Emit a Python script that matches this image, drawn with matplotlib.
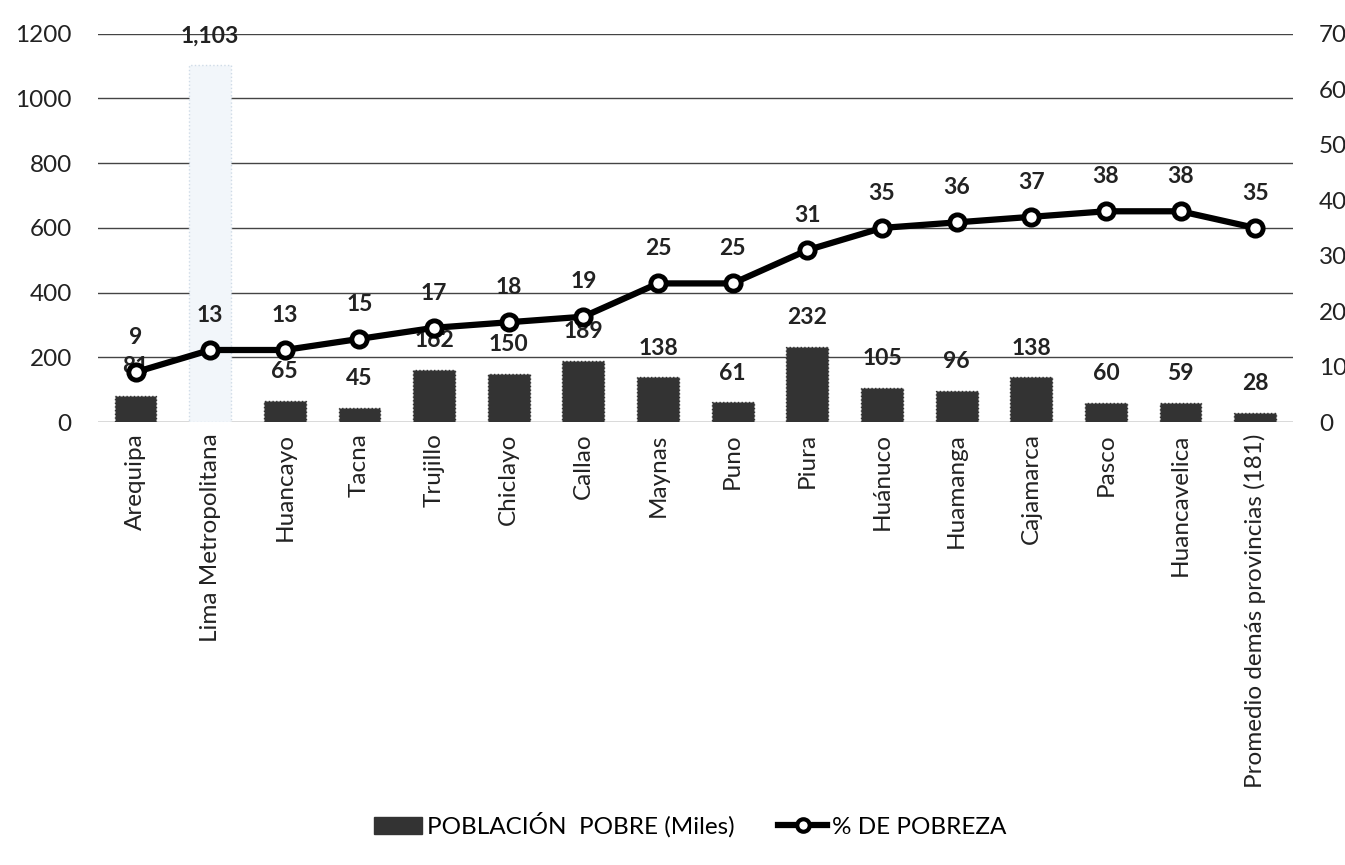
import matplotlib.pyplot as plt
import numpy as np
from matplotlib.lines import Line2D
from matplotlib.patches import Patch

plt.rcParams['font.family'] = ['Lato', 'DejaVu Sans']

# ---------------------------------------------------------------
# Datos
# ---------------------------------------------------------------
PROVINCIAS = ['Arequipa', 'Lima Metropolitana', 'Huancayo', 'Tacna', 'Trujillo',
              'Chiclayo', 'Callao', 'Maynas', 'Puno', 'Piura', 'Huánuco',
              'Huamanga', 'Cajamarca', 'Pasco', 'Huancavelica',
              'Promedio demás provincias (181)']
POBLACION_POBRE = [81, 1103, 65, 45, 162, 150, 189, 138, 61, 232, 105, 96, 138, 60, 59, 28]
PCT_POBREZA = [9, 13, 13, 15, 17, 18, 19, 25, 25, 31, 35, 36, 37, 38, 38, 35]
ETIQUETAS_POBLACION = ['81', '1,103', '65', '45', '162', '150', '189', '138', '61',
                       '232', '105', '96', '138', '60', '59', '28']

# ---------------------------------------------------------------
# Gráfico
# ---------------------------------------------------------------
fig = plt.figure(figsize=(13.45, 8.65), dpi=100)
ax = fig.add_axes([0.073, 0.512, 0.888, 0.449])
ax2 = ax.twinx()

x = np.arange(len(PROVINCIAS))
colores = ['#333333'] * len(PROVINCIAS)
bordes = ['#333333'] * len(PROVINCIAS)
colores[1] = '#f2f6fa'   # Lima Metropolitana aparece casi en blanco
bordes[1] = '#cfdbe7'

ax.set_axisbelow(True)
ax.grid(axis='y', color='#444444', linewidth=1.0)
barras = ax.bar(x, POBLACION_POBRE, 0.56, color=colores, edgecolor=bordes,
                linewidth=1.0, linestyle=':', zorder=2)
for i, b in enumerate(barras):
    ax.annotate(ETIQUETAS_POBLACION[i], (b.get_x() + b.get_width() / 2, b.get_height()),
                xytext=(0, 21), textcoords='offset points', ha='center', va='center',
                fontsize=16.5, fontweight='bold', color='#222222')

ax.set_ylim(0, 1200)
ax.set_yticks(range(0, 1201, 200))
ax.set_xlim(-0.5, len(PROVINCIAS) - 0.5)
ax.set_xticks(x)
ax.set_xticklabels(PROVINCIAS, rotation=90, fontsize=17.5, color='#222222')
ax.tick_params(axis='y', labelsize=17.5, pad=19)
ax.tick_params(axis='x', pad=8)
ax.tick_params(axis='both', length=0, colors='#222222')

ax2.plot(x, PCT_POBREZA, color='black', linewidth=4.5, marker='o', markersize=11,
         markerfacecolor='white', markeredgecolor='black', markeredgewidth=3.5, zorder=3)
for xi, v in zip(x, PCT_POBREZA):
    ax2.annotate(str(v), (xi, v), xytext=(0, 25), textcoords='offset points',
                 ha='center', va='center', fontsize=16.5, fontweight='bold', color='#222222')
ax2.set_ylim(0, 70)
ax2.set_yticks(range(0, 71, 10))
ax2.tick_params(axis='y', length=0, labelsize=17.5, colors='#222222', pad=19)

for a in (ax, ax2):
    for s in a.spines.values():
        s.set_visible(False)

manejadores = [
    Patch(facecolor='#333333', edgecolor='#333333'),
    Line2D([0], [0], color='black', linewidth=4.5, marker='o', markersize=9,
           markerfacecolor='white', markeredgecolor='black', markeredgewidth=3),
]
fig.legend(manejadores, ['POBLACIÓN  POBRE (Miles)', '% DE POBREZA'],
           loc='center', bbox_to_anchor=(0.513, 0.046), ncol=2, frameon=False,
           fontsize=17.5, handlelength=2.0, handletextpad=0.2, columnspacing=1.8)

fig.savefig('out.png', dpi=100)
